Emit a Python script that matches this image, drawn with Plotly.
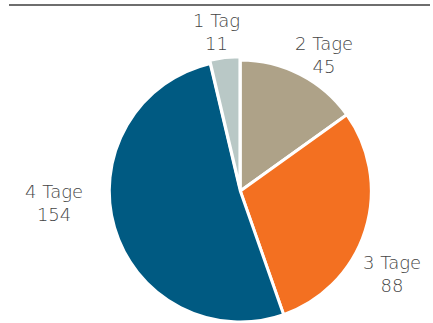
import plotly.graph_objects as go

labels = ["2 Tage", "3 Tage", "4 Tage", "1 Tag"]
values = [45, 88, 154, 11]
colors = ["#aea288", "#f37021", "#005a82", "#b9c8c6"]
pulls = [0, 0, 0, 0.025]

# label anchor positions (paper coordinates), same order as labels
label_x = [0.7314, 0.8842, 0.1219, 0.4876]
label_y = [0.8338, 0.1707, 0.3867, 0.9033]

W, H = 443, 331

fig = go.Figure(go.Pie(
    labels=labels,
    values=values,
    sort=False,
    direction="clockwise",
    rotation=0,
    pull=pulls,
    marker=dict(colors=colors, line=dict(color="white", width=3)),
    textinfo="none",
    domain=dict(x=[0.2393, 0.8456], y=[0.0172, 0.8287]),
    showlegend=False,
    hoverinfo="none",
))

for lab, val, lx, ly in zip(labels, values, label_x, label_y):
    fig.add_annotation(
        x=lx, y=ly, xref="paper", yref="paper",
        text=f"{lab}<br>{val}", showarrow=False,
        xanchor="center", yanchor="middle", align="center",
        font=dict(family="DejaVu Sans", size=18, color="#454545", weight=200),
    )

fig.update_layout(
    width=W, height=H,
    margin=dict(l=0, r=0, t=0, b=0),
    paper_bgcolor="white",
    plot_bgcolor="white",
    shapes=[dict(type="line", xref="paper", yref="paper",
                 x0=9/W, x1=430/W, y0=1-5/H, y1=1-5/H,
                 line=dict(color="#6e6e6e", width=2))],
)

fig.write_html("out.html")
